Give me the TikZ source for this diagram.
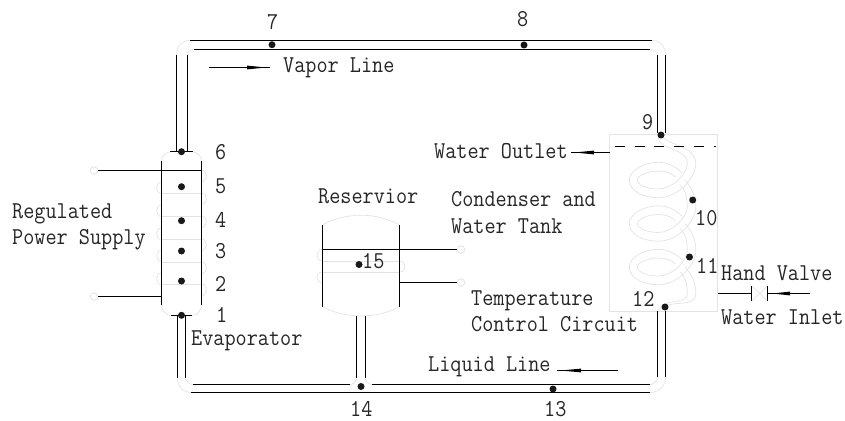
\documentclass[tikz,border=0pt]{standalone}
\usepackage{fontspec}
\newcommand{\tx}[1]{\scalebox{1}[1.12]{#1}}
\begin{document}
\begin{tikzpicture}[x=1pt,y=-1pt,
  wire/.style={line width=1pt,black},
  soft/.style={line width=0.7pt,black!11},
  pt/.style={circle,fill=black!90,inner sep=0pt,minimum size=7pt},
  term/.style={circle,draw=black!12,line width=0.7pt,fill=white,inner sep=0pt,minimum size=7.5pt},
  lbl/.style={anchor=base west,inner sep=0pt,text=black!85,font=\ttfamily\fontsize{21.6}{24}\selectfont}]
\useasboundingbox (0,0) rectangle (845,420);
% terminals
\node[term] (ta) at (94,170.5) {};
\node[term] (tb) at (94,296.5) {};
\node[term] (tc) at (461,249.5) {};
\node[term] (td) at (461,282.5) {};
% soft corners of pipes
\draw[soft] (176.5,55) .. controls (176.5,46) and (182,40.5) .. (190,40.5);
\draw[soft] (187.5,55) .. controls (187.5,52) and (190,49.5) .. (194,49.5);
\draw[soft] (665.5,55) .. controls (665.5,46) and (660,40.5) .. (652,40.5);
\draw[soft] (657.5,55) .. controls (657.5,52) and (654,49.5) .. (650,49.5);
\draw[soft] (177.5,378) .. controls (177.5,386) and (183,392.5) .. (191,392.5);
\draw[soft] (185.5,378) .. controls (185.5,381) and (189,384.5) .. (193,384.5);
\draw[soft] (665.5,377) .. controls (665.5,386) and (659,392.5) .. (650,392.5);
\draw[soft] (657.5,377) .. controls (657.5,381) and (654,384.5) .. (650,384.5);
\draw[soft] (356.5,378) .. controls (356.5,381) and (354,384.5) .. (350,384.5);
\draw[soft] (365.5,378) .. controls (365.5,381) and (368,384.5) .. (372,384.5);
% evaporator soft parts
\draw[soft] (161.5,161) .. controls (161.5,156) and (166,151.5) .. (172,151.5);
\draw[soft] (201.5,161) .. controls (201.5,156) and (197,151.5) .. (191,151.5);
\draw[soft] (161.5,305) .. controls (161.5,311) and (166,315.5) .. (172,315.5);
\draw[soft] (201.5,305) .. controls (201.5,311) and (197,315.5) .. (191,315.5);
\foreach \y in {170,193,216,239,262,284}{
  \draw[soft] (201.5,\y) .. controls (208,\y) and (208,\y+11.5) .. (201.5,\y+11.5);
}
\foreach \y in {182,205,228,250,273}{
  \draw[soft] (161.5,\y) .. controls (155,\y) and (155,\y+11.5) .. (161.5,\y+11.5);
}
\foreach \y in {193.5,216.5,239.5,262.5,284.5}{
  \draw[soft] (161.5,\y) -- (201.5,\y);
}
% reservoir soft parts
\draw[soft] (322.5,225) .. controls (345,212) and (377,212) .. (399.5,225);
\draw[soft] (322.5,306.7) .. controls (345,319) and (377,319) .. (399.5,306.7);
\draw[soft] (322.5,249.5) .. controls (315,249.5) and (315,261) .. (322.5,261);
\draw[soft] (399.5,261) .. controls (407,261) and (407,272) .. (399.5,272);
\draw[soft] (322.5,272) .. controls (315,272) and (315,282.5) .. (322.5,282.5);
\draw[soft] (322.5,261) -- (399.5,261) (322.5,272) -- (399.5,272);
% condenser soft parts
\draw[soft] (609.5,134.5) rectangle (717.5,311);
\draw[soft] (663,137) .. controls (668,145) and (695.7,146) .. (695.7,163.3);
\draw[soft] (658,138) .. controls (660,150) and (687.3,148) .. (687.3,163.3);
\foreach \c in {180,223.5,267}{
  \begin{scope}[shift={(658.3,\c)}]
  \draw[soft] (37.5,-16.7) .. controls (37.5,-2) and (20,17.7) .. (0,17.7)
     .. controls (-15,17.7) and (-29,11) .. (-29,0)
     .. controls (-29,-9) and (-15,-17.7) .. (0,-17.7)
     .. controls (12,-17.7) and (20,-11) .. (24,-7);
  \draw[soft] (29,-16.7) .. controls (29,-6) and (14,9) .. (0,9)
     .. controls (-11,9) and (-21,5) .. (-21,0)
     .. controls (-21,-4) and (-11,-9) .. (0,-9)
     .. controls (7,-9) and (13,-7) .. (17,-3);
  \draw[soft] (27,0) .. controls (33,8) and (37.5,15) .. (37.5,26.8);
  \draw[soft] (22,5) .. controls (27,10) and (29,17) .. (29,26.8);
  \end{scope}
}
\draw[soft] (695.8,293.8) .. controls (695.8,308) and (672,300) .. (665,307);
\draw[soft] (687.3,293.8) .. controls (687.3,306) and (661,296) .. (658,313);
% valve
\draw[soft] (752,286) -- (767.5,301) (752,301) -- (767.5,286);
% pipes
\draw[wire] (190,40.5) -- (652,40.5) (194,49.5) -- (650,49.5);
\draw[wire] (176.5,55) -- (176.5,151.5) (187.5,55) -- (187.5,151.5);
\draw[wire] (657.5,55) -- (657.5,133) (665.5,55) -- (665.5,133);
\draw[wire] (177.5,315.5) -- (177.5,378) (185.5,315.5) -- (185.5,378);
\draw[wire] (657.5,311) -- (657.5,377) (665.5,311) -- (665.5,377);
\draw[wire] (193,384.5) -- (350,384.5) (372,384.5) -- (650,384.5);
\draw[wire] (191,392.5) -- (650,392.5);
\draw[wire] (356.5,316) -- (356.5,378) (365.5,316) -- (365.5,378);
% evaporator
\draw[wire] (161.5,161) -- (161.5,305) (201.5,161) -- (201.5,305);
\draw[wire] (170,151.5) -- (193,151.5) (171,315.5) -- (192,315.5);
\draw[wire] (ta) -- (201.5,170.5);
\draw[wire] (tb) -- (161.5,296.5);
% reservoir
\draw[wire] (322.5,225) -- (322.5,306.7) (399.5,225) -- (399.5,306.7);
\draw[wire] (322.5,249.5) -- (tc);
\draw[wire] (399.5,282.5) -- (td);
% condenser
\draw[wire,dash pattern=on 10pt off 9.7pt] (615,146.5) -- (716,146.5);
% leaders and flow wedges
\draw[wire] (209,67.5) -- (270,67.5);
\fill (247,65.6) -- (247,69.4) -- (266,67.5) -- cycle;
\draw[wire] (571,152.5) -- (609.5,152.5);
\fill (594,150.6) -- (594,154.4) -- (574,152.5) -- cycle;
\draw[wire] (557,370.5) -- (618,370.5);
\fill (581,368.6) -- (581,372.4) -- (561,370.5) -- cycle;
\draw[wire] (717.5,293.5) -- (751.5,293.5) (767.5,293.5) -- (810,293.5);
\draw[wire] (751.5,285.5) -- (751.5,301) (767.5,285.5) -- (767.5,301);
\fill (790,291.6) -- (790,295.4) -- (772,293.5) -- cycle;
% numbered points
\node[pt] (p1) at (181.5,315.3) {};
\node[pt] (p2) at (181.5,281) {};
\node[pt] (p3) at (181.5,251) {};
\node[pt] (p4) at (181.5,220.7) {};
\node[pt] (p5) at (181.5,186.7) {};
\node[pt] (p6) at (181.5,151.7) {};
\node[pt] (p7) at (272,44.7) {};
\node[pt] (p8) at (524,45) {};
\node[pt] (p9) at (661,135) {};
\node[pt] (p10) at (692.7,200) {};
\node[pt] (p11) at (689.5,257) {};
\node[pt] (p12) at (665,307) {};
\node[pt] (p13) at (553,389) {};
\node[pt] (p14) at (361,386.5) {};
\node[pt] (p15) at (359,264.5) {};
% labels
\node[lbl] (n1) at (216,322) {\tx{1}};
\node[lbl] (n2) at (215,291) {\tx{2}};
\node[lbl] (n3) at (215,258) {\tx{3}};
\node[lbl] (n4) at (215,227) {\tx{4}};
\node[lbl] (n5) at (215,193) {\tx{5}};
\node[lbl] (n6) at (215,159) {\tx{6}};
\node[lbl] (n7) at (267,30) {\tx{7}};
\node[lbl] (n8) at (517,27) {\tx{8}};
\node[lbl] (n9) at (642,129) {\tx{9}};
\node[lbl] (n10) at (695,225) {\tx{10}};
\node[lbl] (n11) at (696,273) {\tx{11}};
\node[lbl] (n12) at (632,306) {\tx{12}};
\node[lbl] (n13) at (544,416) {\tx{13}};
\node[lbl] (n14) at (350,416.5) {\tx{14}};
\node[lbl] (n15) at (362,268) {\tx{15}};
\node[lbl] (vapor) at (283,72) {\tx{Vapor Line}};
\node[lbl] (outlet) at (434,158) {\tx{Water Outlet}};
\node[lbl] (cond1) at (451,206) {\tx{Condenser and}};
\node[lbl] (cond2) at (451,233) {\tx{Water Tank}};
\node[lbl] (res) at (318,203) {\tx{Reservior}};
\node[lbl] (reg1) at (12,218) {\tx{Regulated}};
\node[lbl] (reg2) at (12,244) {\tx{Power Supply}};
\node[lbl] (temp1) at (471,305) {\tx{Temperature}};
\node[lbl] (temp2) at (471,331) {\tx{Control Circuit}};
\node[lbl] (hand) at (721,280) {\tx{Hand Valve}};
\node[lbl] (inlet) at (721,324) {\tx{Water Inlet}};
\node[lbl] (evap) at (191,345) {\tx{Evaporator}};
\node[lbl] (liquid) at (428,371) {\tx{Liquid Line}};
\end{tikzpicture}
\end{document}
